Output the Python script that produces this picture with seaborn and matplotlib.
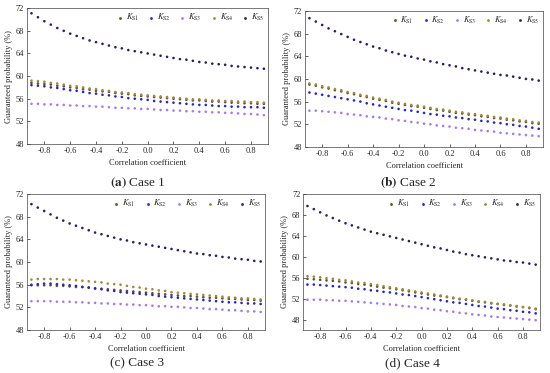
import pandas as pd
import matplotlib.pyplot as plt
import seaborn as sns

# correlation coefficient grid (-0.9 ... 0.9, step 0.05)
rho = [-0.9, -0.85, -0.8, -0.75, -0.7, -0.65, -0.6, -0.55, -0.5, -0.45,
       -0.4, -0.35, -0.3, -0.25, -0.2, -0.15, -0.1, -0.05, 0.0, 0.05,
       0.1, 0.15, 0.2, 0.25, 0.3, 0.35, 0.4, 0.45, 0.5, 0.55,
       0.6, 0.65, 0.7, 0.75, 0.8, 0.85, 0.9]

series_names = ["KS1", "KS2", "KS3", "KS4", "KS5"]
series_labels = [r"$K_{\mathrm{S1}}$", r"$K_{\mathrm{S2}}$", r"$K_{\mathrm{S3}}$",
                 r"$K_{\mathrm{S4}}$", r"$K_{\mathrm{S5}}$"]
series_colors = ["#6b4a2a", "#2626c8", "#a47cee", "#9c8c3c", "#2e1d5c"]

# Case 1
case1_ks1 = [58.8, 58.7, 58.6, 58.5, 58.3, 58.2, 58.0, 57.9, 57.7, 57.6,
             57.4, 57.3, 57.2, 57.0, 56.9, 56.8, 56.6, 56.5, 56.4, 56.3,
             56.2, 56.1, 56.0, 55.9, 55.8, 55.7, 55.7, 55.6, 55.5, 55.5,
             55.4, 55.3, 55.3, 55.2, 55.2, 55.1, 55.1]
case1_ks2 = [58.4, 58.3, 58.2, 58.0, 57.9, 57.7, 57.5, 57.4, 57.2, 57.0,
             56.9, 56.7, 56.6, 56.4, 56.3, 56.1, 56.0, 55.9, 55.8, 55.6,
             55.5, 55.4, 55.3, 55.2, 55.1, 55.0, 54.9, 54.9, 54.8, 54.7,
             54.7, 54.6, 54.6, 54.5, 54.5, 54.5, 54.4]
case1_ks3 = [55.1, 55.1, 55.0, 55.0, 54.9, 54.9, 54.8, 54.8, 54.7, 54.7,
             54.6, 54.6, 54.5, 54.4, 54.4, 54.3, 54.3, 54.2, 54.2, 54.1,
             54.0, 54.0, 53.9, 53.9, 53.8, 53.8, 53.7, 53.7, 53.6, 53.6,
             53.5, 53.5, 53.4, 53.3, 53.3, 53.2, 53.1]
case1_ks4 = [59.2, 59.1, 59.0, 58.8, 58.7, 58.5, 58.3, 58.2, 58.0, 57.8,
             57.7, 57.5, 57.4, 57.2, 57.1, 57.0, 56.8, 56.7, 56.6, 56.5,
             56.4, 56.3, 56.2, 56.1, 56.0, 55.9, 55.9, 55.8, 55.7, 55.7,
             55.6, 55.6, 55.5, 55.5, 55.4, 55.4, 55.3]
case1_ks5 = [71.1, 70.4, 69.7, 69.1, 68.5, 68.0, 67.5, 67.1, 66.7, 66.3,
             66.0, 65.7, 65.4, 65.1, 64.9, 64.6, 64.4, 64.2, 64.0, 63.8,
             63.6, 63.4, 63.2, 63.0, 62.9, 62.7, 62.5, 62.4, 62.2, 62.1,
             62.0, 61.8, 61.7, 61.6, 61.5, 61.4, 61.3]

# Case 2
case2_ks1 = [59.0, 58.8, 58.5, 58.3, 58.0, 57.8, 57.5, 57.3, 57.0, 56.8,
             56.5, 56.3, 56.1, 55.8, 55.6, 55.4, 55.2, 55.1, 54.9, 54.7,
             54.5, 54.4, 54.2, 54.0, 53.9, 53.7, 53.6, 53.4, 53.3, 53.1,
             53.0, 52.8, 52.7, 52.5, 52.4, 52.2, 52.1]
case2_ks2 = [57.6, 57.4, 57.2, 57.0, 56.8, 56.6, 56.4, 56.2, 56.0, 55.7,
             55.5, 55.3, 55.1, 54.9, 54.7, 54.5, 54.4, 54.2, 54.0, 53.8,
             53.7, 53.5, 53.4, 53.2, 53.1, 52.9, 52.8, 52.6, 52.5, 52.3,
             52.2, 52.0, 51.9, 51.7, 51.6, 51.4, 51.2]
case2_ks3 = [54.4, 54.4, 54.3, 54.2, 54.1, 54.0, 53.8, 53.7, 53.6, 53.4,
             53.3, 53.2, 53.0, 52.9, 52.7, 52.6, 52.4, 52.3, 52.1, 52.0,
             51.8, 51.7, 51.6, 51.4, 51.3, 51.2, 51.0, 50.9, 50.8, 50.7,
             50.5, 50.4, 50.3, 50.2, 50.1, 50.0, 49.9]
case2_ks4 = [59.2, 59.0, 58.7, 58.5, 58.2, 58.0, 57.7, 57.5, 57.2, 57.0,
             56.7, 56.5, 56.3, 56.0, 55.8, 55.6, 55.4, 55.3, 55.1, 54.9,
             54.7, 54.6, 54.4, 54.2, 54.1, 53.9, 53.8, 53.6, 53.5, 53.3,
             53.2, 53.0, 52.9, 52.7, 52.6, 52.4, 52.3]
case2_ks5 = [70.7, 70.1, 69.5, 68.9, 68.4, 67.9, 67.4, 66.9, 66.5, 66.1,
             65.7, 65.4, 65.0, 64.7, 64.4, 64.1, 63.9, 63.6, 63.4, 63.1,
             62.9, 62.6, 62.4, 62.2, 61.9, 61.7, 61.5, 61.3, 61.1, 60.9,
             60.7, 60.6, 60.4, 60.2, 60.0, 59.9, 59.7]

# Case 3
case3_ks1 = [55.9, 55.9, 55.9, 55.9, 55.8, 55.8, 55.7, 55.6, 55.6, 55.5,
             55.4, 55.3, 55.2, 55.1, 55.0, 54.9, 54.8, 54.7, 54.6, 54.5,
             54.4, 54.3, 54.2, 54.1, 54.0, 54.0, 53.9, 53.8, 53.7, 53.7,
             53.6, 53.5, 53.5, 53.4, 53.3, 53.3, 53.2]
case3_ks2 = [56.0, 56.1, 56.2, 56.2, 56.1, 56.0, 55.9, 55.8, 55.6, 55.5,
             55.3, 55.2, 55.0, 54.9, 54.7, 54.6, 54.5, 54.4, 54.3, 54.2,
             54.0, 53.9, 53.8, 53.7, 53.6, 53.5, 53.4, 53.3, 53.2, 53.1,
             53.0, 52.9, 52.9, 52.8, 52.7, 52.7, 52.6]
case3_ks3 = [53.1, 53.1, 53.1, 53.1, 53.0, 53.0, 53.0, 52.9, 52.9, 52.8,
             52.8, 52.7, 52.7, 52.6, 52.6, 52.5, 52.5, 52.4, 52.4, 52.3,
             52.2, 52.2, 52.1, 52.1, 52.0, 51.9, 51.9, 51.8, 51.7, 51.7,
             51.6, 51.5, 51.5, 51.4, 51.3, 51.3, 51.2]
case3_ks4 = [56.9, 57.0, 57.0, 57.0, 57.0, 56.9, 56.9, 56.8, 56.7, 56.6,
             56.5, 56.4, 56.2, 56.1, 56.0, 55.8, 55.6, 55.5, 55.3, 55.2,
             55.0, 54.9, 54.7, 54.6, 54.5, 54.4, 54.3, 54.2, 54.1, 54.0,
             53.9, 53.8, 53.7, 53.6, 53.6, 53.5, 53.4]
case3_ks5 = [70.2, 69.6, 69.0, 68.4, 67.8, 67.3, 66.8, 66.4, 66.0, 65.6,
             65.2, 64.9, 64.6, 64.3, 64.0, 63.8, 63.5, 63.3, 63.1, 62.9,
             62.7, 62.5, 62.3, 62.1, 61.9, 61.7, 61.5, 61.4, 61.2, 61.1,
             60.9, 60.8, 60.6, 60.5, 60.4, 60.2, 60.1]

# Case 4
case4_ks1 = [55.8, 55.7, 55.6, 55.5, 55.4, 55.3, 55.1, 55.0, 54.8, 54.7,
             54.5, 54.3, 54.1, 54.0, 53.8, 53.6, 53.4, 53.2, 53.0, 52.8,
             52.6, 52.5, 52.3, 52.1, 51.9, 51.8, 51.6, 51.4, 51.3, 51.1,
             51.0, 50.8, 50.7, 50.5, 50.4, 50.2, 50.0]
case4_ks2 = [54.7, 54.7, 54.6, 54.5, 54.4, 54.3, 54.2, 54.1, 53.9, 53.8,
             53.6, 53.5, 53.3, 53.2, 53.0, 52.8, 52.7, 52.5, 52.3, 52.1,
             51.9, 51.7, 51.5, 51.3, 51.2, 51.0, 50.8, 50.6, 50.5, 50.3,
             50.1, 50.0, 49.8, 49.7, 49.5, 49.4, 49.2]
case4_ks3 = [51.8, 51.8, 51.8, 51.7, 51.7, 51.6, 51.6, 51.5, 51.4, 51.3,
             51.2, 51.1, 51.0, 50.9, 50.8, 50.6, 50.5, 50.4, 50.2, 50.1,
             49.9, 49.8, 49.6, 49.5, 49.3, 49.2, 49.0, 48.9, 48.8, 48.6,
             48.5, 48.4, 48.3, 48.2, 48.1, 48.0, 47.9]
case4_ks4 = [56.3, 56.2, 56.1, 55.9, 55.8, 55.6, 55.5, 55.3, 55.1, 55.0,
             54.8, 54.6, 54.4, 54.2, 54.0, 53.8, 53.6, 53.4, 53.2, 53.0,
             52.8, 52.6, 52.4, 52.2, 52.0, 51.9, 51.7, 51.5, 51.4, 51.2,
             51.0, 50.9, 50.7, 50.6, 50.4, 50.3, 50.1]
case4_ks5 = [69.7, 69.1, 68.5, 67.9, 67.4, 66.9, 66.4, 66.0, 65.6, 65.2,
             64.8, 64.5, 64.2, 63.9, 63.6, 63.3, 63.0, 62.7, 62.4, 62.1,
             61.8, 61.6, 61.3, 61.0, 60.8, 60.5, 60.3, 60.1, 59.9, 59.7,
             59.5, 59.3, 59.2, 59.0, 58.9, 58.7, 58.5]

cases = [
    ("(a)", True, "Case 1", [case1_ks1, case1_ks2, case1_ks3, case1_ks4, case1_ks5], (48, 72)),
    ("(b)", True, "Case 2", [case2_ks1, case2_ks2, case2_ks3, case2_ks4, case2_ks5], (48, 72)),
    ("(c)", False, "Case 3", [case3_ks1, case3_ks2, case3_ks3, case3_ks4, case3_ks5], (48, 72)),
    ("(d)", False, "Case 4", [case4_ks1, case4_ks2, case4_ks3, case4_ks4, case4_ks5], (46, 72)),
]

sns.set_style("ticks")
plt.rcParams["font.family"] = ["Liberation Serif", "DejaVu Serif"]
plt.rcParams["mathtext.fontset"] = "stix"

fig = plt.figure(figsize=(5.5, 3.73), dpi=100)

# axes boxes in figure fractions: left, bottom, width, height
boxes = [
    [0.049, 0.614, 0.439, 0.364],
    [0.5545, 0.606, 0.433, 0.365],
    [0.049, 0.115, 0.433, 0.365],
    [0.551, 0.115, 0.431, 0.365],
]
captions_xy = [(0.25, 0.51), (0.742, 0.51), (0.25, 0.027), (0.75, 0.027)]

for (tag, bold, title, values, ylim), box, cxy in zip(cases, boxes, captions_xy):
    ax = fig.add_axes(box)
    frames = []
    for name, vals in zip(series_names, values):
        frames.append(pd.DataFrame({"rho": rho, "prob": vals, "series": name}))
    df = pd.concat(frames, ignore_index=True)
    sns.scatterplot(data=df, x="rho", y="prob", hue="series",
                    palette=dict(zip(series_names, series_colors)),
                    s=3.5, linewidth=0, marker="o", ax=ax, legend=False)
    for name, lab, col in zip(series_names, series_labels, series_colors):
        ax.scatter([], [], s=4, color=col, linewidth=0, label=lab)
    ax.legend(loc="upper right", ncol=5, frameon=False, fontsize=6,
              handletextpad=0.3, columnspacing=1.05, borderaxespad=0.25,
              markerscale=1.0, handlelength=0.8, borderpad=0.2)
    ax.set_xlim(-0.935, 0.935)
    ax.set_ylim(*ylim)
    ax.set_xticks([-0.8, -0.6, -0.4, -0.2, 0.0, 0.2, 0.4, 0.6, 0.8])
    ax.set_xticklabels(["-0.8", "-0.6", "-0.4", "-0.2", "0.0", "0.2", "0.4", "0.6", "0.8"])
    ax.set_yticks([48, 52, 56, 60, 64, 68, 72])
    ax.tick_params(labelsize=6, direction="in", length=2, width=0.5, pad=2)
    for sp in ax.spines.values():
        sp.set_linewidth(0.5)
        sp.set_color("#444444")
    ax.set_xlabel("Correlation coefficient", fontsize=6, labelpad=3)
    ax.set_ylabel("Guaranteed probability (%)", fontsize=6, labelpad=2)
    tag_txt = r"$\mathbf{" + tag + "}$" if bold else tag
    fig.text(cxy[0], cxy[1], tag_txt + " " + title,
             ha="center", va="center", fontsize=9.5)

plt.savefig("out.png", dpi=100)
plt.close()
